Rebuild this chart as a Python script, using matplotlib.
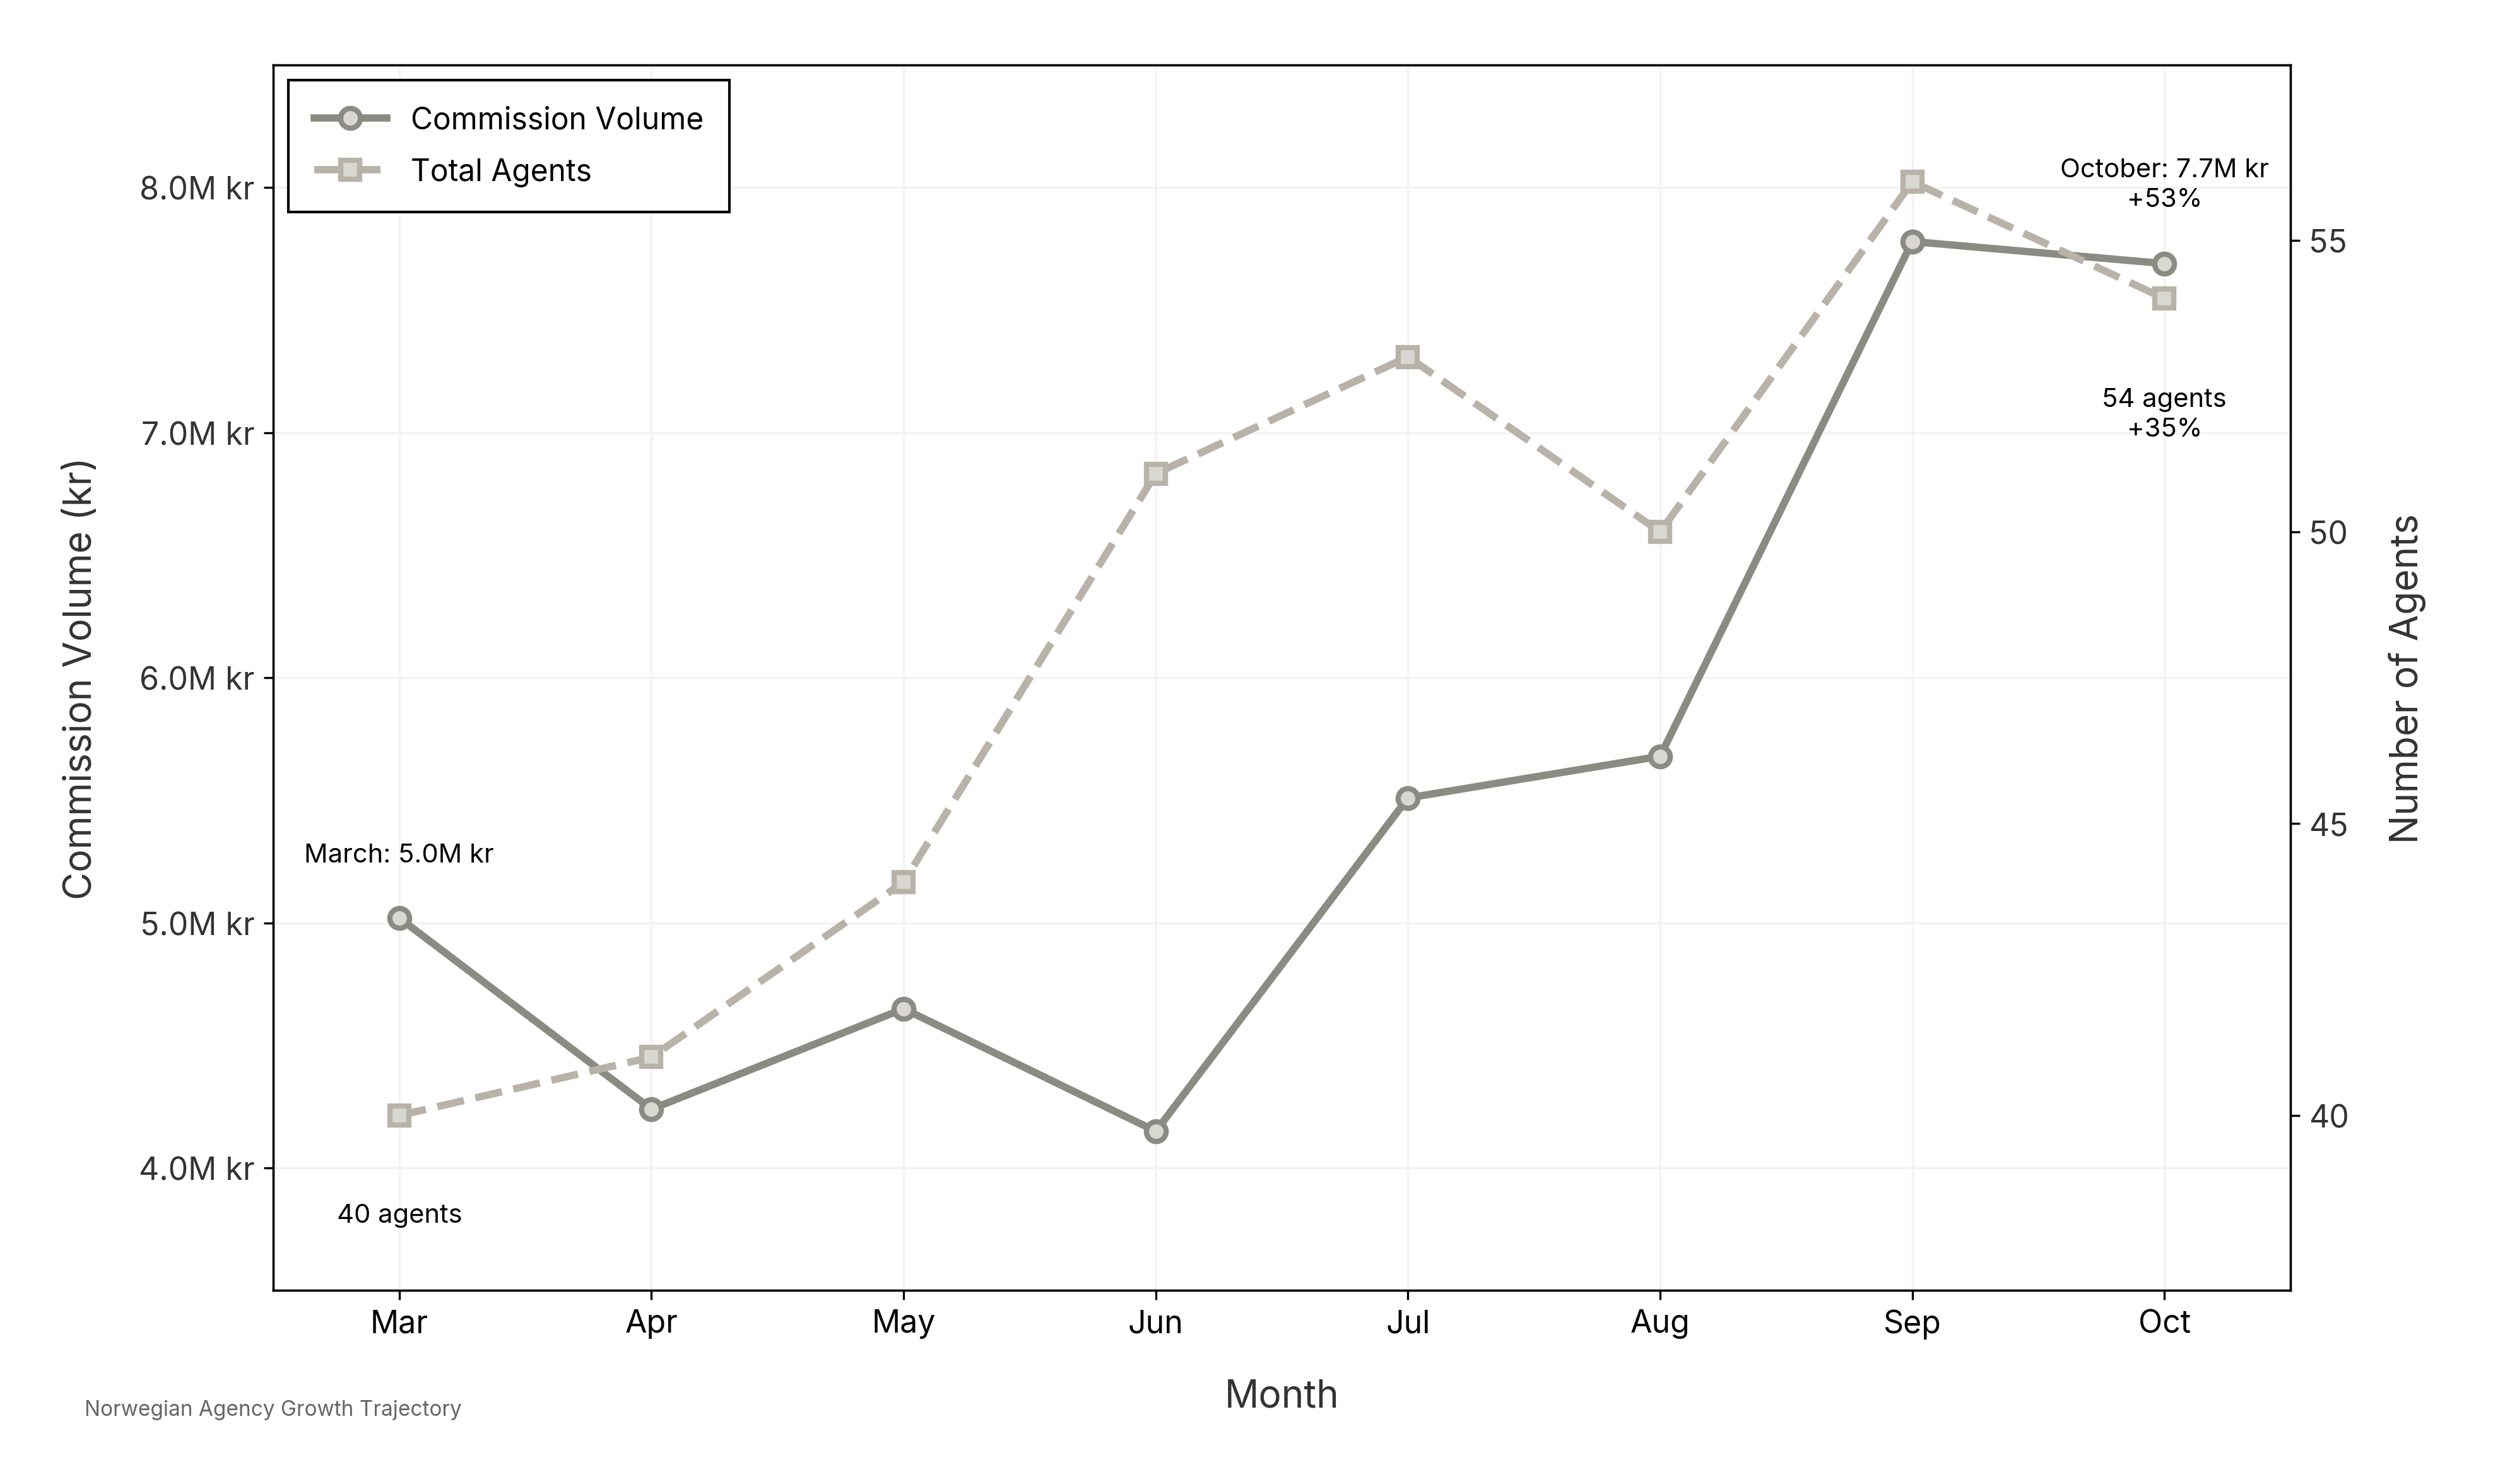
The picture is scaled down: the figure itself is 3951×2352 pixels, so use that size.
import matplotlib
matplotlib.use("Agg")
import matplotlib.pyplot as plt
from matplotlib.ticker import FuncFormatter, FixedLocator

# data
months = ["Mar", "Apr", "May", "Jun", "Jul", "Aug", "Sep", "Oct"]
commission = [5.02e6, 4.24e6, 4.65e6, 4.15e6, 5.51e6, 5.68e6, 7.78e6, 7.69e6]
agents = [40, 41, 44, 51, 53, 50, 56, 54]
left_ticks = [4e6, 5e6, 6e6, 7e6, 8e6]
right_ticks = [40, 45, 50, 55]

plt.rcParams["font.family"] = ["Inter", "DejaVu Sans"]

COMM_COLOR = "#8a8b82"
AGENT_COLOR = "#b8b2a8"
FACE = "#d9d7d1"

fig = plt.figure(figsize=(13.17, 7.843), dpi=300)
ax = fig.add_axes([0.1096, 0.1303, 0.8092, 0.8255])
ax2 = ax.twinx()

x = list(range(len(months)))

l1, = ax.plot(x, commission, color=COMM_COLOR, lw=2.8, marker="o", ms=7.5,
              mfc=FACE, mec=COMM_COLOR, mew=2, label="Commission Volume", zorder=3)
l2, = ax2.plot(x, agents, color=AGENT_COLOR, lw=2.8, ls="--", marker="s", ms=7,
               mfc=FACE, mec=AGENT_COLOR, mew=2, label="Total Agents", zorder=3)

ax.set_xlim(-0.5, 7.5)
ax.set_ylim(3.5e6, 8.5e6)
ax2.set_ylim(37, 58)

ax.set_xticks(x)
ax.set_xticklabels(months)
ax.yaxis.set_major_locator(FixedLocator(left_ticks))
ax.yaxis.set_major_formatter(FuncFormatter(lambda v, p: f"{v / 1e6:.1f}M kr"))
ax2.yaxis.set_major_locator(FixedLocator(right_ticks))

ax.tick_params(axis="x", labelsize=12, colors="black")
ax.tick_params(axis="y", labelsize=12, labelcolor="#333333")
ax2.tick_params(axis="y", labelsize=12, labelcolor="#333333")

ax.grid(True, color="#f3f3f3", lw=0.8, zorder=0)
ax.set_axisbelow(True)

ax.set_xlabel("Month", fontsize=14.5, color="#333333", labelpad=15)
ax.set_ylabel("Commission Volume (kr)", fontsize=14.5, color="#333333", labelpad=15)
ax2.set_ylabel("Number of Agents", fontsize=14.5, color="#333333", labelpad=15)

# start / end annotations
ax.annotate(f"March: {commission[0] / 1e6:.1f}M kr", xy=(0, commission[0]),
            xytext=(0, 24), textcoords="offset points", ha="center", va="center",
            fontsize=10, color="black")
ax2.annotate(f"{agents[0]} agents", xy=(0, agents[0]),
             xytext=(0, -38), textcoords="offset points", ha="center", va="center",
             fontsize=10, color="black")
comm_growth = (commission[-1] / commission[0] - 1) * 100
agent_growth = (agents[-1] / agents[0] - 1) * 100
ax.annotate(f"October: {commission[-1] / 1e6:.1f}M kr\n+{comm_growth:.0f}%",
            xy=(7, commission[-1]), xytext=(0, 30), textcoords="offset points",
            ha="center", va="center", fontsize=10, color="black", linespacing=1.3)
ax2.annotate(f"{agents[-1]} agents\n+{agent_growth:.0f}%",
             xy=(7, agents[-1]), xytext=(0, -44), textcoords="offset points",
             ha="center", va="center", fontsize=10, color="black", linespacing=1.3)

leg = ax2.legend(handles=[l1, l2], loc="upper left", fontsize=11.5, frameon=True,
                 fancybox=False, framealpha=1, edgecolor="black",
                 handlelength=2.4, borderpad=0.85, labelspacing=0.75)
leg.get_frame().set_linewidth(1.0)

fig.text(0.034, 0.05, "Norwegian Agency Growth Trajectory", fontsize=8,
         color="#666666", ha="left", va="center")

fig.savefig("out.png", dpi=300)
